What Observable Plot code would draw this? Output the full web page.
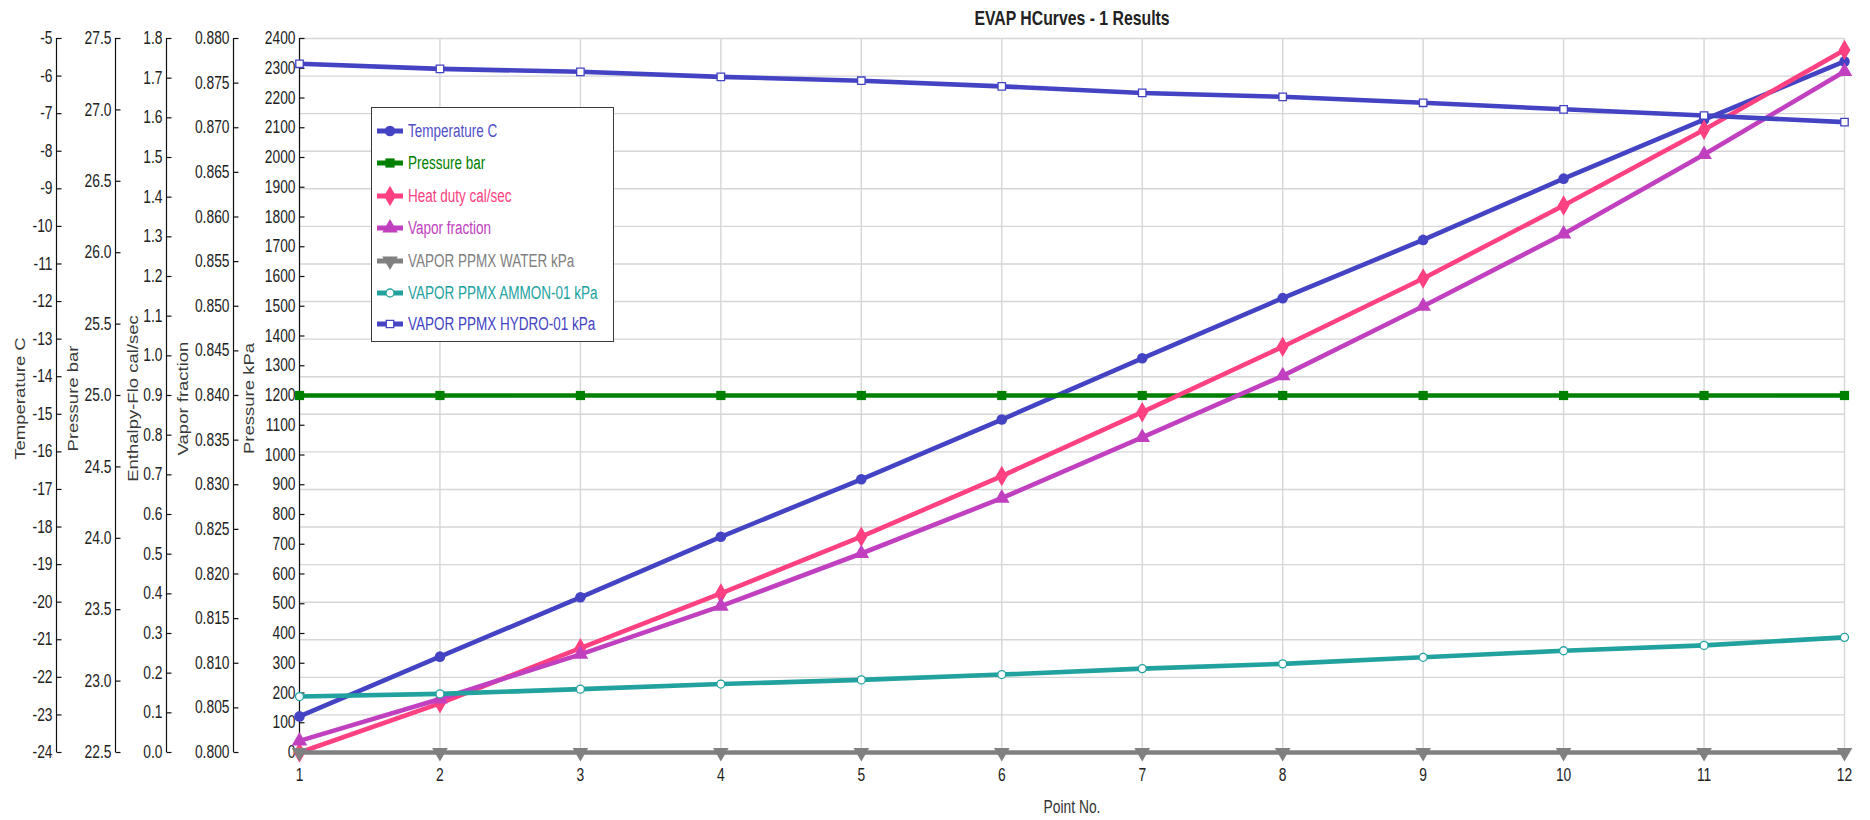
<!DOCTYPE html>
<html><head><meta charset="utf-8">
<script src="https://cdn.jsdelivr.net/npm/d3@7"></script>
<script src="https://cdn.jsdelivr.net/npm/@observablehq/plot@0.6"></script>
<style>
html,body{margin:0;padding:0;background:#fff;}
#wrap{position:relative;width:1870px;height:820px;overflow:hidden;}
#legend{position:absolute;left:371px;top:107px;width:241px;height:233px;border:1px solid #3a3a3a;background:#fff;}
.row{position:absolute;left:5px;height:24px;display:flex;align-items:center;white-space:nowrap;
  font-family:"Liberation Sans",Arial,sans-serif;font-size:18px;}
.row svg{margin-right:5px;flex:none;}
.row span{display:inline-block;transform:scaleX(0.75);transform-origin:left center;}
</style></head><body><div id="wrap"></div>
<script>
// ---------- data ----------
const points = [1, 2, 3, 4, 5, 6, 7, 8, 9, 10, 11, 12];
const temperatureC = [-23.04, -21.45, -19.87, -18.26, -16.73, -15.14, -13.51, -11.91, -10.36, -8.73, -7.16, -5.61];
const pressureBar = [25.0, 25.0, 25.0, 25.0, 25.0, 25.0, 25.0, 25.0, 25.0, 25.0, 25.0, 25.0];
const heatDuty = [0.000, 0.124, 0.263, 0.401, 0.544, 0.697, 0.858, 1.023, 1.195, 1.379, 1.570, 1.771];
const vaporFraction = [0.8013, 0.8060, 0.8110, 0.8164, 0.8223, 0.8285, 0.8353, 0.8422, 0.8500, 0.8581, 0.8670, 0.8763];
const waterKPa = [0, 0, 0, 0, 0, 0, 0, 0, 0, 0, 0, 0];
const ammoniaKPa = [188, 197, 213, 230, 244, 262, 282, 298, 320, 342, 360, 387];
const hydrogenKPa = [2315, 2298, 2288, 2271, 2258, 2239, 2217, 2204, 2184, 2162, 2141, 2119];

const tempTicks = [-24,-23,-22,-21,-20,-19,-18,-17,-16,-15,-14,-13,-12,-11,-10,-9,-8,-7,-6,-5];
const barTicks = [22.5,23.0,23.5,24.0,24.5,25.0,25.5,26.0,26.5,27.0,27.5];
const enthTicks = [0.0,0.1,0.2,0.3,0.4,0.5,0.6,0.7,0.8,0.9,1.0,1.1,1.2,1.3,1.4,1.5,1.6,1.7,1.8];
const vfTicks = [0.800,0.805,0.810,0.815,0.820,0.825,0.830,0.835,0.840,0.845,0.850,0.855,0.860,0.865,0.870,0.875,0.880];
const kpaTicks = [0,100,200,300,400,500,600,700,800,900,1000,1100,1200,1300,1400,1500,1600,1700,1800,1900,2000,2100,2200,2300,2400];

const title = "EVAP HCurves - 1 Results";
const xLabel = "Point No.";

// ---------- layout / style ----------
const W = 1870, H = 820, mL = 299, mR = 26, mT = 38, mB = 68;
const font = '"Liberation Sans",Arial,sans-serif';

const axes = [
  {title: "Temperature C", domain: [-24, -5], ticks: tempTicks, fmt: d => String(d), line: 56, titleX: 20},
  {title: "Pressure bar", domain: [22.5, 27.5], ticks: barTicks, fmt: d => d.toFixed(1), line: 115, titleX: 73},
  {title: "Enthalpy-Flo cal/sec", domain: [0, 1.8], ticks: enthTicks, fmt: d => d.toFixed(1), line: 166, titleX: 133},
  {title: "Vapor fraction", domain: [0.8, 0.88], ticks: vfTicks, fmt: d => d.toFixed(3), line: 233, titleX: 183},
  {title: "Pressure kPa", domain: [0, 2400], ticks: kpaTicks, fmt: d => String(d), line: 299, titleX: 249}
];
axes.forEach(a => a.s = d3.scaleLinear(a.domain, [0, 2400]));
const [axT, axBar, axEnth, axVF, axKPa] = axes;

const blue = "#4343C3", green = "#008000", pink = "#FF4081", purple = "#C040C0",
      gray = "#808080", teal = "#22A29E";

const series = [
  {name: "Temperature C", values: temperatureC, s: axT.s, color: blue, symbol: "circle", r: 5.3, fill: blue, stroke: "none", rotate: 0, textColor: "#5050C8"},
  {name: "Pressure bar", values: pressureBar, s: axBar.s, color: green, symbol: "square", r: 5.2, fill: green, stroke: "none", rotate: 0, textColor: green},
  {name: "Heat duty cal/sec", values: heatDuty, s: axEnth.s, color: pink, symbol: "diamond", r: 6.2, fill: pink, stroke: "none", rotate: 0, textColor: pink},
  {name: "Vapor fraction", values: vaporFraction, s: axVF.s, color: purple, symbol: "triangle", r: 5.8, fill: purple, stroke: "none", rotate: 0, textColor: purple},
  {name: "VAPOR PPMX WATER kPa", values: waterKPa, s: axKPa.s, color: gray, symbol: "triangle", r: 5.8, fill: gray, stroke: "none", rotate: 180, textColor: gray},
  {name: "VAPOR PPMX AMMON-01 kPa", values: ammoniaKPa, s: axKPa.s, color: teal, symbol: "circle", r: 4, fill: "#fff", stroke: teal, rotate: 0, textColor: teal},
  {name: "VAPOR PPMX HYDRO-01 kPa", values: hydrogenKPa, s: axKPa.s, color: blue, symbol: "square", r: 4.2, fill: "#fff", stroke: blue, rotate: 0, textColor: blue}
];

const tickSym = {draw(ctx) { ctx.moveTo(0, 0); ctx.lineTo(5, 0); }};

const marks = [];
// grid
marks.push(Plot.ruleY(tempTicks, {y: d => axT.s(d), stroke: "#d6d6d6", strokeWidth: 1.4}));
marks.push(Plot.ruleX(points, {x: d => d, stroke: "#d6d6d6", strokeWidth: 1.4}));
// axes
for (const a of axes) {
  const dx = a.line - mL;
  marks.push(Plot.ruleX([1], {x: d => d, dx, stroke: "#111", strokeWidth: 1.2}));
  marks.push(Plot.dot(a.ticks, {y: d => a.s(d), frameAnchor: "left", dx, symbol: tickSym, fill: "none", stroke: "#111", strokeWidth: 1.2}));
  marks.push(Plot.text(a.ticks, {y: d => a.s(d), text: a.fmt, frameAnchor: "left", dx: dx - 4, textAnchor: "end", lineAnchor: "middle", fontFamily: font, fontSize: 17.5, fill: "#222"}));
  marks.push(Plot.text([a.title], {text: d => d, frameAnchor: "left", dx: a.titleX - mL, dy: 3, rotate: -90, textAnchor: "middle", lineAnchor: "middle", fontFamily: font, fontSize: 18.5, fill: "#3a3a3a"}));
}
// series
for (const sr of series) {
  const data = points.map((p, i) => ({x: p, y: sr.s(sr.values[i])}));
  marks.push(Plot.line(data, {x: "x", y: "y", stroke: sr.color, strokeWidth: 4.6}));
  marks.push(Plot.dot(data, {x: "x", y: "y", symbol: sr.symbol, r: sr.r, fill: sr.fill, stroke: sr.stroke, strokeWidth: 1.3, rotate: sr.rotate}));
}
// x labels & titles
marks.push(Plot.text(points, {x: d => d, text: d => String(d), frameAnchor: "bottom", dy: 23, lineAnchor: "middle", fontFamily: font, fontSize: 17.5, fill: "#222"}));
marks.push(Plot.text([xLabel], {text: d => d, frameAnchor: "bottom", dy: 55, lineAnchor: "middle", fontFamily: font, fontSize: 17.5, fill: "#333"}));
marks.push(Plot.text([title], {text: d => d, frameAnchor: "top", dy: -20, lineAnchor: "middle", fontFamily: font, fontSize: 20, fontWeight: "bold", fill: "#222"}));

const chart = Plot.plot({
  width: W, height: H,
  marginLeft: mL, marginRight: mR, marginTop: mT, marginBottom: mB,
  x: {domain: [1, 12], axis: null},
  y: {domain: [0, 2400], axis: null},
  style: {background: "#fff", overflow: "visible"},
  marks
});

// the reference's lettering is horizontally condensed: squeeze each text about its own anchor
d3.select(chart).selectAll("text").each(function() {
  const t = this.getAttribute("transform") || "";
  const rotated = /rotate/.test(t);
  this.setAttribute("transform", (t ? t + " " : "") + (rotated ? "scale(1,0.8)" : "scale(0.79,1)"));
});

const wrap = document.getElementById("wrap");
wrap.appendChild(chart);

// legend
const legend = document.createElement("div");
legend.id = "legend";
wrap.appendChild(legend);
const symMap = {circle: d3.symbolCircle, square: d3.symbolSquare, diamond: d3.symbolDiamond, triangle: d3.symbolTriangle};
const rowTops = [11, 43, 76, 108, 141, 173, 204];
series.forEach((sr, i) => {
  const row = document.createElement("div");
  row.className = "row";
  row.style.top = rowTops[i] + "px";
  const svg = d3.create("svg").attr("width", 26).attr("height", 20);
  svg.append("line").attr("x1", 0).attr("x2", 26).attr("y1", 10).attr("y2", 10).attr("stroke", sr.color).attr("stroke-width", 5);
  svg.append("path").attr("d", d3.symbol(symMap[sr.symbol], Math.PI * sr.r * sr.r)())
    .attr("transform", `translate(13,10) rotate(${sr.rotate})`)
    .attr("fill", sr.fill).attr("stroke", sr.stroke === "none" ? null : sr.stroke).attr("stroke-width", 1.3);
  row.appendChild(svg.node());
  const span = document.createElement("span");
  span.textContent = sr.name;
  span.style.color = sr.textColor;
  row.appendChild(span);
  legend.appendChild(row);
});
</script></body></html>
